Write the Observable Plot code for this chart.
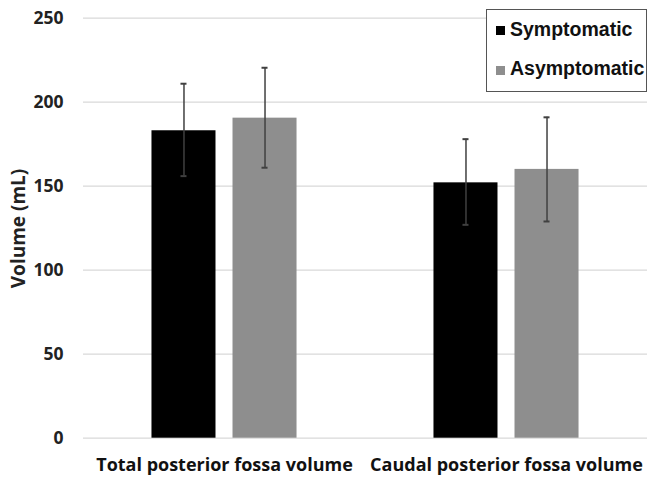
<!DOCTYPE html>
<html><head><meta charset="utf-8">
<script src="https://cdn.jsdelivr.net/npm/d3@7"></script>
<script src="https://cdn.jsdelivr.net/npm/@observablehq/plot@0.6"></script>
<style>
body{margin:0;background:#fff;}
#wrap{position:relative;width:647px;height:478px;overflow:hidden;}
.legend{position:absolute;left:486px;top:9px;width:161px;height:83px;box-sizing:border-box;border:1px solid #555;background:#fff;font-family:"Liberation Sans",Arial,sans-serif;font-weight:bold;font-size:19.5px;color:#111;}
.sw{position:absolute;left:9px;width:9px;height:9px;}
.tx{position:absolute;left:23px;line-height:22px;white-space:nowrap;}
</style></head>
<body><div id="wrap"></div>
<script>
const categories = ["Total posterior fossa volume", "Caudal posterior fossa volume"];
const groups = ["Symptomatic", "Asymptomatic"];
const groupColors = ["#000000", "#8e8e8e"];
const symptomaticMean = [183, 152];
const symptomaticLow = [156, 127];
const symptomaticHigh = [211, 178];
const asymptomaticMean = [190.5, 160];
const asymptomaticLow = [161, 129];
const asymptomaticHigh = [220.5, 191];
const yTicks = [0, 50, 100, 150, 200, 250];

const rows = [];
categories.forEach((c, i) => {
  rows.push({category: c, group: groups[0], mean: symptomaticMean[i], low: symptomaticLow[i], high: symptomaticHigh[i]});
  rows.push({category: c, group: groups[1], mean: asymptomaticMean[i], low: asymptomaticLow[i], high: asymptomaticHigh[i]});
});

const chart = Plot.plot({
  width: 647,
  height: 478,
  marginLeft: 83,
  marginRight: 0,
  marginTop: 18,
  marginBottom: 40,
  style: {fontFamily: "'Open Sans', sans-serif", background: "#fff"},
  fx: {domain: categories, padding: 0, round: false},
  x: {domain: groups, paddingInner: 0.21, paddingOuter: 0.845, round: false, axis: null},
  y: {domain: [0, 250], range: [437.7, 17.7]},
  color: {domain: groups, range: groupColors},
  marks: [
    Plot.ruleY(yTicks, {stroke: "#d9d9d9", strokeWidth: 1.3}),
    Plot.barY(rows, {fx: "category", x: "group", y: "mean", fill: "group"}),
    Plot.ruleX(rows, {fx: "category", x: "group", y1: "low", y2: "high", stroke: "#404040", strokeWidth: 1.5}),
    Plot.tickY(rows, {fx: "category", x: "group", y: "low", stroke: "#404040", strokeWidth: 2, insetLeft: 29, insetRight: 29}),
    Plot.tickY(rows, {fx: "category", x: "group", y: "high", stroke: "#404040", strokeWidth: 2, insetLeft: 29, insetRight: 29}),
    Plot.axisY({ticks: yTicks, tickSize: 0, tickPadding: 20, fontSize: 17.5, fontWeight: "bold", fill: "#222",
      label: "Volume (mL)", labelAnchor: "center", labelArrow: "none", labelOffset: 72}),
    Plot.axisFx({anchor: "bottom", tickSize: 0, tickPadding: 20, fontSize: 18, fontWeight: "bold", fill: "#111", label: null})
  ]
});
chart.style.position = "absolute";
chart.style.left = "0";
chart.style.top = "0";
const wrap = document.getElementById("wrap");
wrap.appendChild(chart);
chart.querySelectorAll("[aria-label='y-axis label'] text").forEach(t => {t.setAttribute("font-size", "19"); t.setAttribute("font-weight", "bold");});

const legend = document.createElement("div");
legend.className = "legend";
groups.forEach((g, i) => {
  const sw = document.createElement("div");
  sw.className = "sw";
  sw.style.top = (i === 0 ? 16 : 56) + "px";
  sw.style.background = groupColors[i];
  legend.appendChild(sw);
  const tx = document.createElement("div");
  tx.className = "tx";
  tx.style.top = (i === 0 ? 8 : 47) + "px";
  tx.textContent = g;
  legend.appendChild(tx);
});
wrap.appendChild(legend);
</script></body></html>
